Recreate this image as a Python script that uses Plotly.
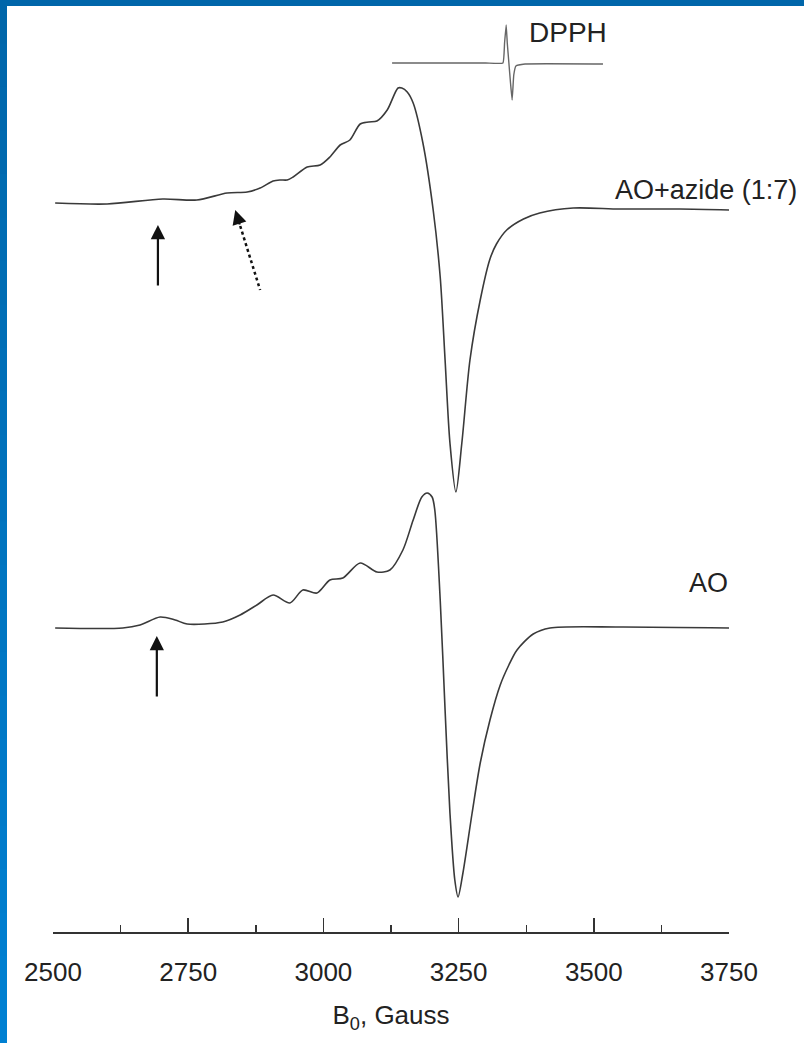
import plotly.graph_objects as go

# ---------------- data ----------------
# Magnetic field, Gauss, and first-derivative EPR signal (arb. units, + = up)
azide_B = [2504, 2600, 2703, 2766, 2822, 2859, 2883, 2907, 2920, 2933, 2944, 2970, 2994,
           3012, 3031, 3049, 3068, 3084, 3099, 3118, 3138, 3145, 3155, 3166, 3184, 3203,
           3216, 3225, 3234, 3245, 3256, 3271, 3290, 3308, 3320, 3339, 3370, 3400, 3462,
           3548, 3659, 3754]
azide_S = [-1, -2, 3, 2, 9, 10, 14, 21, 22, 22, 25, 35, 37,
           45, 57, 62, 78, 80, 81, 92, 114, 114, 110, 99, 59, -8,
           -75, -158, -241, -290, -241, -158, -98, -57, -42, -28, -17, -11, -6,
           -7, -7, -8]

ao_B = [2504, 2629, 2661, 2698, 2726, 2748, 2814, 2846, 2877, 2907, 2938, 2962,
        2988, 3012, 3036, 3068, 3099, 3123, 3147, 3166, 3182, 3192, 3201, 3206,
        3216, 3225, 3234, 3243, 3249, 3258, 3275, 3290, 3308, 3327, 3343, 3358, 3388,
        3419, 3548, 3752]
ao_S = [0, 0, 3, 11, 8, 4, 6, 13, 23, 33, 25, 38,
        35, 48, 50, 65, 56, 58, 78, 108, 131, 135, 131, 118,
        28, -82, -185, -252, -269, -245, -185, -135, -92, -57, -37, -22, -6,
        0, 1, 0]

dpph_B = [3127, 3300, 3332, 3335, 3338, 3340, 3343, 3346, 3349, 3352, 3356, 3373, 3517]
dpph_S = [0, 0, 0, 20, 38, 20, 0, -20, -37, -12, -3, -1, -1]

# vertical offsets of the stacked spectra
azide_offset = 730
ao_offset = 304
dpph_offset = 869

x_ticks = [2500, 2750, 3000, 3250, 3500, 3750]
x_tick_labels = ["2500", "2750", "3000", "3250", "3500", "3750"]

# arrows (field position, tip height, tail height)
arrow_azide_solid = (2694, 707, 645)
arrow_azide_dotted = ((2837, 722), (2883, 642))
arrow_ao = (2692, 296, 234)

FONT = "Liberation Sans, Arial, Helvetica, sans-serif"
LINE = "#3a3a3a"

fig = go.Figure()
fig.add_trace(go.Scatter(x=azide_B, y=[azide_offset + s for s in azide_S], mode="lines",
                         line=dict(color=LINE, width=1.6, shape="spline", smoothing=0.8),
                         hoverinfo="skip", showlegend=False))
fig.add_trace(go.Scatter(x=ao_B, y=[ao_offset + s for s in ao_S], mode="lines",
                         line=dict(color=LINE, width=1.6, shape="spline", smoothing=0.8),
                         hoverinfo="skip", showlegend=False))
fig.add_trace(go.Scatter(x=dpph_B, y=[dpph_offset + s for s in dpph_S], mode="lines",
                         line=dict(color="#666666", width=1.4, shape="spline", smoothing=0.3),
                         hoverinfo="skip", showlegend=False))

annotations = []
# labels
annotations.append(dict(x=3452, y=900, text="DPPH", showarrow=False,
                        font=dict(family=FONT, size=28, color="#222")))
annotations.append(dict(x=3707, y=742, text="AO+azide (1:7)", showarrow=False,
                        font=dict(family=FONT, size=27, color="#222")))
annotations.append(dict(x=3713, y=349, text="AO", showarrow=False,
                        font=dict(family=FONT, size=27, color="#222")))
# solid arrows
for (bx, tip, tail) in [arrow_azide_solid, arrow_ao]:
    annotations.append(dict(x=bx, y=tip, ax=bx, ay=tail, xref="x", yref="y",
                            axref="x", ayref="y", text="", showarrow=True,
                            arrowhead=2, arrowsize=1.3, arrowwidth=2.2, arrowcolor="#111"))
# dotted arrow: head only via annotation, shaft via dotted shape
(tipx, tipy), (tailx, taily) = arrow_azide_dotted
hx = tipx + (tailx - tipx) * 0.2
hy = tipy + (taily - tipy) * 0.2
annotations.append(dict(x=tipx, y=tipy, ax=hx, ay=hy, xref="x", yref="y",
                        axref="x", ayref="y", text="", showarrow=True,
                        arrowhead=2, arrowsize=1.3, arrowwidth=2.2, arrowcolor="#111"))

shapes = [dict(type="line", xref="x", yref="y", x0=hx, y0=hy, x1=tailx, y1=taily,
               line=dict(color="#111", width=2.5, dash="dot"))]

# blue frame (top and left bands), plot area 53..729 px wide, 0..932 px tall
W, L, R, PH = 804, 53, 729, 932
PW = R - L
def px(xp):
    return (xp - L) / PW
def py(yp):
    return (PH - yp) / PH
shapes.append(dict(type="rect", xref="paper", yref="paper", x0=px(0), x1=px(W),
                   y0=py(6), y1=py(0), fillcolor="#0066aa", line=dict(width=0), layer="above"))
n = 24
c0 = (0x00, 0x66, 0xaa)
c1 = (0x00, 0x80, 0xd2)
for i in range(n):
    t = i / (n - 1)
    col = "rgb(%d,%d,%d)" % tuple(round(a + (b - a) * t) for a, b in zip(c0, c1))
    y_top = 1043 * i / n
    y_bot = 1043 * (i + 1) / n + 1
    shapes.append(dict(type="rect", xref="paper", yref="paper", x0=px(0), x1=px(7),
                       y0=py(y_bot), y1=py(y_top), fillcolor=col, line=dict(width=0),
                       layer="above"))

fig.update_layout(
    width=804, height=1043,
    margin=dict(l=L, r=W - R, t=0, b=1043 - PH, pad=0),
    paper_bgcolor="white", plot_bgcolor="white",
    showlegend=False,
    annotations=annotations,
    shapes=shapes,
    xaxis=dict(range=[2500, 3750], tickmode="array", tickvals=x_ticks, ticktext=x_tick_labels,
               ticks="inside", ticklen=14, tickwidth=1.6, tickcolor="#333",
               showline=True, linecolor="#333", linewidth=2,
               showgrid=False, zeroline=False,
               minor=dict(dtick=125, tick0=2500, ticks="inside", ticklen=7, tickwidth=1.4,
                          tickcolor="#333", showgrid=False),
               tickfont=dict(family=FONT, size=26, color="#222"),
               ticklabelstandoff=16,
               title=dict(text="B<sub>0</sub>, Gauss", font=dict(family=FONT, size=26, color="#222"),
                          standoff=20)),
    yaxis=dict(range=[0, PH], visible=False, showgrid=False, zeroline=False),
)

fig.write_html("out.html", config={"displayModeBar": False, "staticPlot": True},
               post_script="document.body.style.margin='0';document.body.style.padding='0';"
                           "document.body.style.overflow='hidden';")
